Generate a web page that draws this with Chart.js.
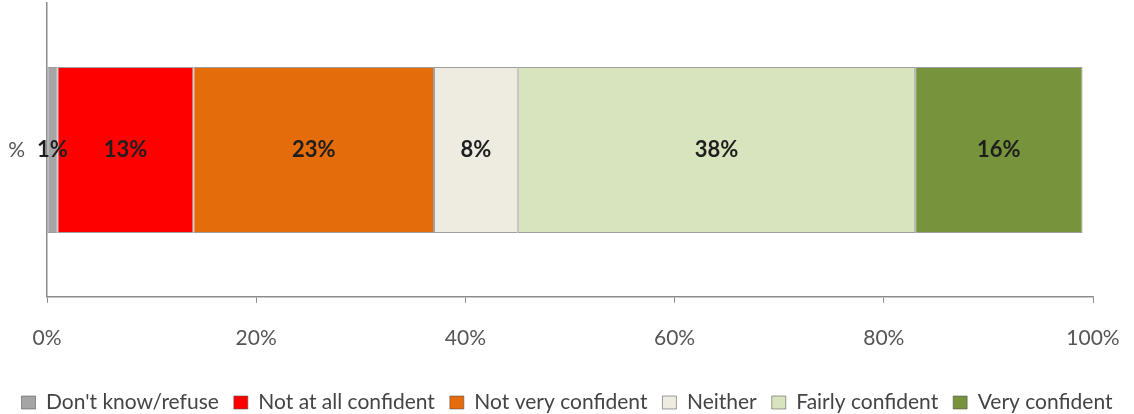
<!DOCTYPE html>
<html>
<head>
<meta charset="utf-8">
<script src="https://cdn.jsdelivr.net/npm/chart.js@4"></script>
<style>
  html, body { margin: 0; padding: 0; background: #fff; }
  #wrap { width: 1134px; height: 414px; }
</style>
</head>
<body>
<div id="wrap"><canvas id="myChart"></canvas></div>
<script>
// data
const categories = ['%'];
const seriesNames = ["Don't know/refuse", 'Not at all confident', 'Not very confident', 'Neither', 'Fairly confident', 'Very confident'];
const seriesValues = [1, 13, 23, 8, 38, 16];
const seriesColors = ['#a5a5a5', '#ff0000', '#e46c0a', '#eeece1', '#d7e4bd', '#77933c'];
const tickValues = [0, 20, 40, 60, 80, 100];

const fontFamily = 'Lato, "Open Sans", sans-serif';

let datasets = [];
for (let i = 0; i < seriesNames.length; i++) {
  datasets.push({
    label: seriesNames[i],
    data: [seriesValues[i]],
    backgroundColor: seriesColors[i],
    borderColor: 'rgba(80,80,80,0.55)',
    borderWidth: 1,
    borderSkipped: false,
    barPercentage: 0.565,
    categoryPercentage: 1
  });
}

// draws the value inside each segment
const barLabels = {
  id: 'barLabels',
  afterDatasetsDraw(chart) {
    const ctx = chart.ctx;
    ctx.save();
    ctx.font = 'bold 22px ' + fontFamily;
    ctx.fillStyle = '#1e1e1e';
    ctx.textAlign = 'center';
    ctx.textBaseline = 'middle';
    chart.data.datasets.forEach((ds, i) => {
      let meta = chart.getDatasetMeta(i);
      meta.data.forEach((bar, j) => {
        let cx = (bar.x + bar.base) / 2;
        ctx.fillText(ds.data[j] + '%', cx, bar.y);
      });
    });
    ctx.restore();
  }
};

const ctx = document.getElementById('myChart').getContext('2d');
const myChart = new Chart(ctx, {
  type: 'bar',
  data: { labels: categories, datasets: datasets },
  plugins: [barLabels],
  options: {
    indexAxis: 'y',
    responsive: true,
    maintainAspectRatio: false,
    animation: false,
    layout: { padding: { top: 3, left: 0, right: 0, bottom: -9 } },
    scales: {
      x: {
        stacked: true,
        min: 0,
        max: 100,
        afterBuildTicks(scale) {
          scale.ticks = tickValues.map(v => ({ value: v }));
        },
        afterFit(scale) {
          scale.paddingRight = 41;
          scale.height += 3;
        },
        ticks: {
          callback: v => v + '%',
          color: '#555',
          font: { family: fontFamily, size: 21 },
          padding: 23,
          maxRotation: 0
        },
        grid: { drawOnChartArea: false, drawTicks: true, tickLength: 6, color: '#8c8c8c' },
        border: { display: true, color: '#8c8c8c', width: 1.5 }
      },
      y: {
        stacked: true,
        afterFit(scale) {
          scale.width = 47;
          scale.paddingTop = 0;
          scale.paddingBottom = 0;
        },
        ticks: {
          color: '#555',
          font: { family: fontFamily, size: 21 },
          padding: 14
        },
        grid: { display: false },
        border: { display: true, color: '#8c8c8c', width: 1.5 }
      }
    },
    plugins: {
      legend: {
        position: 'bottom',
        labels: {
          boxWidth: 14,
          boxHeight: 13,
          padding: 15,
          color: '#444',
          font: { family: fontFamily, size: 21 }
        }
      },
      tooltip: { enabled: false }
    }
  }
});
</script>
</body>
</html>
